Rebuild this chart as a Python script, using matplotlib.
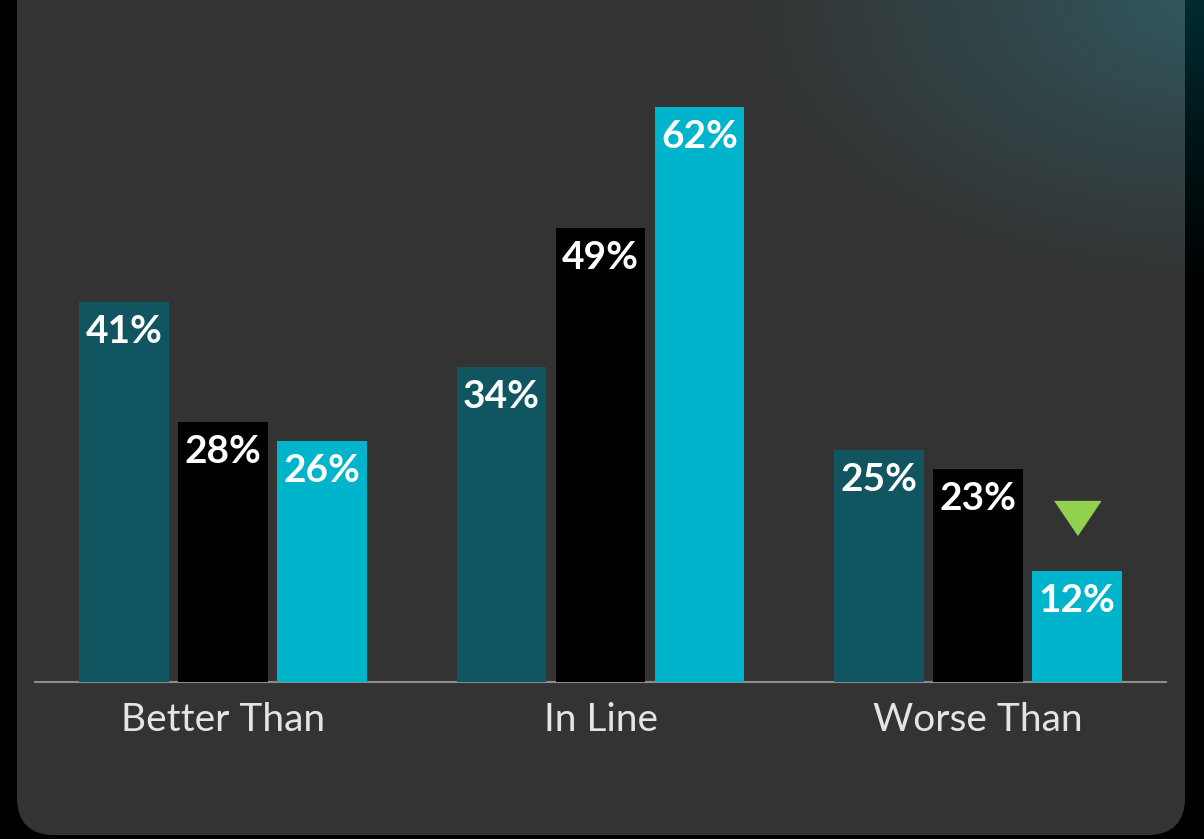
# ================= Import Libraries ==================
import numpy as np
import matplotlib
matplotlib.use("Agg")
import matplotlib.pyplot as plt
from matplotlib.patches import FancyBboxPatch

# ==================== Chart Data ======================
categories = ["Better Than", "In Line", "Worse Than"]
series_a = [41, 34, 25]   # dark teal
series_b = [28, 49, 23]   # black
series_c = [26, 62, 12]   # cyan
series_values = [series_a, series_b, series_c]
series_colors = ["#10555f", "#000000", "#00b4cc"]

# which bar gets the green "down" marker (group index, series index)
flag_group, flag_series = 2, 2

# ================== Figure Setup ======================
W, H = 1204, 839
fig = plt.figure(figsize=(W / 100, H / 100), dpi=100)
fig.patch.set_facecolor("black")

# background layer in pixel coordinates
bg = fig.add_axes([0, 0, 1, 1])
bg.set_xlim(0, W)
bg.set_ylim(0, H)
bg.axis("off")

# row 0 = top of the figure
yy, xx = np.mgrid[0:H, 0:W]
# soft elliptical glow from the top-right corner
d = np.sqrt(((xx - 1200) / 480.0) ** 2 + ((yy - 0) / 300.0) ** 2)
w = np.clip(1 - d, 0, 1) ** 1.2

outer = np.zeros((H, W, 3))
outer += w[..., None] * np.array([0, 44, 50]) / 255.0
bg.imshow(outer, extent=(0, W, 0, H), origin="upper", zorder=0, aspect="auto")

panel = FancyBboxPatch((17 + 38, 4 + 38), 1168 - 76, 900 - 76,
                       boxstyle="round,pad=38", facecolor="#333333",
                       edgecolor="none", zorder=1)
bg.add_patch(panel)

base = np.array([51, 51, 51]) / 255.0
glow = np.array([48, 88, 94]) / 255.0
inner = base + w[..., None] * (glow - base)
im = bg.imshow(inner, extent=(0, W, 0, H), origin="upper", zorder=2, aspect="auto")
im.set_clip_path(panel)

# ================== Bar Chart =========================
ax = fig.add_axes([35 / W, 157 / H, 1131 / W, 682 / H])
ax.set_facecolor("none")
px_per_unit = 9.27
ax.set_ylim(0, 682 / px_per_unit)
ax.set_xlim(-0.497, 2.497)

x = np.arange(len(categories))
offset = 0.262
width = 0.238

for s, (vals, col) in enumerate(zip(series_values, series_colors)):
    xs = x + (s - 1) * offset
    ax.bar(xs, vals, width=width, color=col, zorder=3)
    for xi, v in zip(xs, vals):
        ax.annotate(f"{v}%", xy=(xi, v), xytext=(0, -41), textcoords="offset pixels",
                    ha="center", va="baseline", color="white", fontsize=28,
                    fontweight="bold", family="Lato", zorder=4)

# green triangle above the flagged bar
fx = x[flag_group] + (flag_series - 1) * offset
fv = series_values[flag_series][flag_group]
tri = [(-1, 0.74), (1, 0.74), (0, -0.74)]
ax.plot([fx], [fv], linestyle="none", marker=tri, markersize=33, color="#92d050",
        transform=ax.transData + matplotlib.transforms.ScaledTranslation(0, 53 / 100, fig.dpi_scale_trans),
        zorder=4)

# category labels under the baseline
for xi, name in zip(x, categories):
    ax.annotate(name, xy=(xi, 0), xycoords=("data", "axes fraction"),
                xytext=(0, -49), textcoords="offset pixels", ha="center", va="baseline",
                color="#e4e4e4", fontsize=28, family="Lato")

for side in ["top", "right", "left"]:
    ax.spines[side].set_visible(False)
ax.spines["bottom"].set_color("#8c8c8c")
ax.spines["bottom"].set_linewidth(1.5)
ax.set_xticks([])
ax.set_yticks([])

plt.savefig("out.png", dpi=100, facecolor=fig.get_facecolor())
plt.close()
